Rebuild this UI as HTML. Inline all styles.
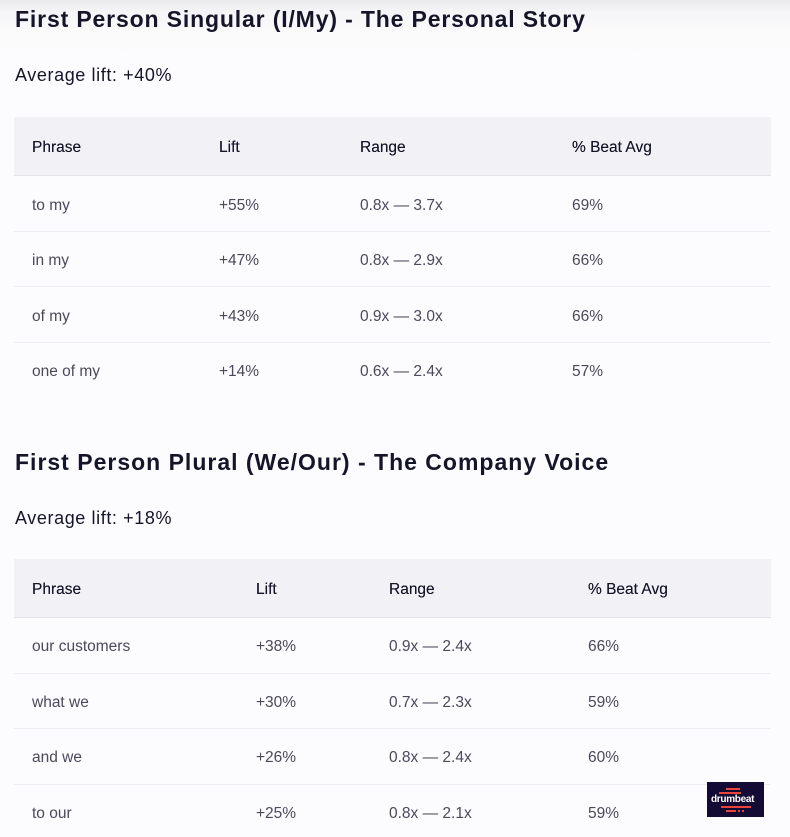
<!DOCTYPE html>
<html><head><meta charset="utf-8"><style>
html,body{margin:0;padding:0;}
body{width:790px;height:837px;overflow:hidden;position:relative;background:#fcfbfd;font-family:"Liberation Sans",sans-serif;}
.shade{position:absolute;left:0;top:0;width:790px;height:60px;background:linear-gradient(#e9e9eb 0px,#f5f5f7 12px,#fbfbfc 35px,rgba(252,251,253,0) 60px);}
.t{position:absolute;white-space:nowrap;}
.h1{font-size:23px;font-weight:bold;color:#15152a;letter-spacing:0.85px;}
.avg{font-size:18px;color:#15152a;letter-spacing:0.6px;}
.hdr{position:absolute;left:14px;width:757px;background:#f2f1f5;border-bottom:1px solid #e4e3e9;}
.line{position:absolute;left:14px;width:757px;height:1px;background:#eeedf1;}
.th{font-size:15.5px;color:#15152a;line-height:20px;text-shadow:0 0 0.3px #15152a;}
.td{font-size:15.5px;color:#4a4a5c;line-height:20px;}
.logo{position:absolute;left:707px;top:782px;width:57px;height:35px;background:#140b34;}
</style></head><body>
<div class="shade"></div>

<div class="t h1" style="left:15px;top:6px;">First Person Singular (I/My) - The Personal Story</div>
<div class="t avg" style="left:15px;top:65px;">Average lift: +40%</div>

<div class="hdr" style="top:117px;height:58px;"></div>
<div class="t th" style="left:32px;top:138px;">Phrase</div>
<div class="t th" style="left:219px;top:138px;">Lift</div>
<div class="t th" style="left:360px;top:138px;">Range</div>
<div class="t th" style="left:572px;top:138px;">% Beat Avg</div>

<div class="t td" style="left:32px;top:196px;">to my</div>
<div class="t td" style="left:219px;top:196px;">+55%</div>
<div class="t td" style="left:360px;top:196px;">0.8x — 3.7x</div>
<div class="t td" style="left:572px;top:196px;">69%</div>
<div class="line" style="top:231px;"></div>
<div class="t td" style="left:32px;top:251px;">in my</div>
<div class="t td" style="left:219px;top:251px;">+47%</div>
<div class="t td" style="left:360px;top:251px;">0.8x — 2.9x</div>
<div class="t td" style="left:572px;top:251px;">66%</div>
<div class="line" style="top:286px;"></div>
<div class="t td" style="left:32px;top:307px;">of my</div>
<div class="t td" style="left:219px;top:307px;">+43%</div>
<div class="t td" style="left:360px;top:307px;">0.9x — 3.0x</div>
<div class="t td" style="left:572px;top:307px;">66%</div>
<div class="line" style="top:342px;"></div>
<div class="t td" style="left:32px;top:362px;">one of my</div>
<div class="t td" style="left:219px;top:362px;">+14%</div>
<div class="t td" style="left:360px;top:362px;">0.6x — 2.4x</div>
<div class="t td" style="left:572px;top:362px;">57%</div>

<div class="t h1" style="left:15px;top:449px;letter-spacing:1.0px;">First Person Plural (We/Our) - The Company Voice</div>
<div class="t avg" style="left:15px;top:508px;">Average lift: +18%</div>

<div class="hdr" style="top:559px;height:58px;"></div>
<div class="t th" style="left:32px;top:580px;">Phrase</div>
<div class="t th" style="left:256px;top:580px;">Lift</div>
<div class="t th" style="left:389px;top:580px;">Range</div>
<div class="t th" style="left:588px;top:580px;">% Beat Avg</div>

<div class="t td" style="left:32px;top:637px;">our customers</div>
<div class="t td" style="left:256px;top:637px;">+38%</div>
<div class="t td" style="left:389px;top:637px;">0.9x — 2.4x</div>
<div class="t td" style="left:588px;top:637px;">66%</div>
<div class="line" style="top:673px;"></div>
<div class="t td" style="left:32px;top:693px;">what we</div>
<div class="t td" style="left:256px;top:693px;">+30%</div>
<div class="t td" style="left:389px;top:693px;">0.7x — 2.3x</div>
<div class="t td" style="left:588px;top:693px;">59%</div>
<div class="line" style="top:728px;"></div>
<div class="t td" style="left:32px;top:748px;">and we</div>
<div class="t td" style="left:256px;top:748px;">+26%</div>
<div class="t td" style="left:389px;top:748px;">0.8x — 2.4x</div>
<div class="t td" style="left:588px;top:748px;">60%</div>
<div class="line" style="top:784px;"></div>
<div class="t td" style="left:32px;top:804px;">to our</div>
<div class="t td" style="left:256px;top:804px;">+25%</div>
<div class="t td" style="left:389px;top:804px;">0.8x — 2.1x</div>
<div class="t td" style="left:588px;top:804px;">59%</div>

<div class="logo">
  <div style="position:absolute;left:19px;top:6px;width:14px;height:2px;background:#e8443a;"></div>
  <div style="position:absolute;left:12px;top:10px;width:22px;height:2px;background:#e8443a;"></div>
  <div class="t" style="left:4px;top:12px;font-size:10px;font-weight:bold;color:#fff;letter-spacing:-0.3px;line-height:11px;">drumbeat</div>
  <div style="position:absolute;left:14px;top:24px;width:30px;height:2px;background:#e8443a;"></div>
  <div style="position:absolute;left:19px;top:28px;width:10px;height:2px;background:#e8443a;"></div>
  <div style="position:absolute;left:31px;top:28px;width:2px;height:2px;background:#e8443a;"></div>
  <div style="position:absolute;left:35px;top:28px;width:2px;height:2px;background:#e8443a;"></div>
</div>
</body></html>
